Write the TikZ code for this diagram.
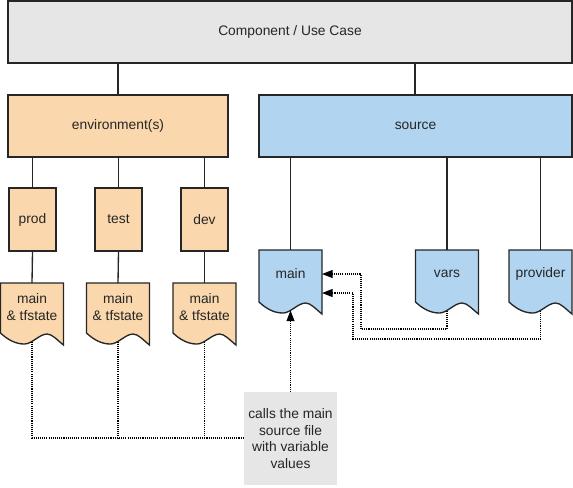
\documentclass[tikz,border=0pt]{standalone}
\usepackage{fontspec}
\setmainfont{Liberation Sans}
\usetikzlibrary{arrows.meta}
\definecolor{boxgray}{HTML}{E6E6E6}
\definecolor{envorange}{HTML}{FAD7AC}
\definecolor{srcblue}{HTML}{B1D5F0}
\newcommand\docshape[7]{%
  \begin{scope}[shift={(#2,#3)}]
    \draw[docline, fill=#6] (0,0) -- (#4,0) -- (#4,#5)
      .. controls ({0.9*#4},{#5-5}) and ({0.82*#4},{#5-11}) .. ({0.74*#4},{#5-11})
      .. controls ({0.62*#4},{#5-11}) and ({0.5*#4},{#5-1}) .. ({0.38*#4},{#5-1})
      .. controls ({0.24*#4},{#5-1}) and ({0.12*#4},{#5-5}) .. (0,{#5-12}) -- cycle;
    \node[doctext] (#1) at ({#4/2},24) {#7};
    \coordinate (#1-t) at ({#4/2},0);
    \coordinate (#1-b) at ({#4/2},{#5-3.5});
  \end{scope}}
\tikzset{
  lbl/.style={font=\fontsize{10.35pt}{12.5pt}\selectfont, text=black!85},
  boxstyle/.style={lbl, draw=black!85, line width=1pt, inner sep=0pt, align=center},
  docline/.style={draw=black!85, line width=1pt},
  doctext/.style={lbl, inner sep=0pt, align=center},
  solidline/.style={draw=black!85, line width=1pt},
  dotline/.style={draw=black, line width=0.8pt, dash pattern=on 0.8pt off 0.8pt},
  dotarrow/.style={dotline, -{Triangle[length=8pt,width=6pt]}},
  notebox/.style={lbl, fill=boxgray, inner sep=0pt, align=center,
    minimum width=69.75pt, minimum height=69.75pt}
}
\begin{document}
\begin{tikzpicture}[x=0.75pt,y=-0.75pt]
\useasboundingbox (0,0) rectangle (573,487);
% main boxes
\node[boxstyle, fill=boxgray, minimum width=423pt, minimum height=46.5pt] (top) at (290,32) {Component / Use Case};
\node[boxstyle, fill=envorange, minimum width=165pt, minimum height=46.5pt] (env) at (118,126) {environment(s)};
\node[boxstyle, fill=srcblue, minimum width=234.75pt, minimum height=46.5pt] (src) at (415.5,126) {source};
% environment boxes
\node[boxstyle, fill=envorange, minimum width=35.25pt, minimum height=47.25pt] (prod) at (32.5,219.5) {prod};
\node[boxstyle, fill=envorange, minimum width=35.25pt, minimum height=47.25pt] (test) at (118.5,219.5) {test};
\node[boxstyle, fill=envorange, minimum width=35.25pt, minimum height=47.25pt] (dev) at (204.5,219.5) {dev};
% documents
\docshape{pdoc}{0.5}{283}{63}{62}{envorange}{main\\\& tfstate}
\docshape{tdoc}{86.5}{283}{63}{62}{envorange}{main\\\& tfstate}
\docshape{ddoc}{173}{283}{63}{62}{envorange}{main\\\& tfstate}
\docshape{mdoc}{259}{250}{63}{64}{srcblue}{main}
\docshape{vdoc}{415.5}{250}{63}{64}{srcblue}{vars}
\docshape{rdoc}{509}{250}{63}{64}{srcblue}{provider}
% solid connectors
\draw[solidline] (env.north |- top.south) -- (env.north);
\draw[solidline] (415,63) coordinate (srctop) -- (srctop |- src.north);
\draw[solidline] (prod.north |- env.south) -- (prod.north);
\draw[solidline] (test.north |- env.south) -- (test.north);
\draw[solidline] (dev.north |- env.south) -- (dev.north);
\draw[solidline] (prod.south) -- (pdoc-t);
\draw[solidline] (test.south) -- (tdoc-t);
\draw[solidline] (dev.south) -- (ddoc-t);
\draw[solidline] (mdoc-t |- src.south) -- (mdoc-t);
\draw[solidline] (vdoc-t |- src.south) -- (vdoc-t);
\draw[solidline] (rdoc-t |- src.south) -- (rdoc-t);
% dotted connectors
\coordinate (k1) at (361,329);
\coordinate (m1) at (322,274);
\coordinate (k2) at (353,339);
\coordinate (m2) at (322,293);
\coordinate (k3) at (0,438);
\draw[dotarrow] (vdoc-b) |- (k1) |- (m1);
\draw[dotarrow] (rdoc-b) |- (k2) |- (m2);
\draw[dotarrow] (pdoc-b) |- (k3 -| mdoc-b) -- (mdoc-b);
\draw[dotline] (tdoc-b) -- (tdoc-b |- k3);
\draw[dotline] (ddoc-b) -- (ddoc-b |- k3);
% callout
\node[notebox] (note) at (290.5,438.5) {calls the main\\source file\\with variable\\values};
\end{tikzpicture}
\end{document}
